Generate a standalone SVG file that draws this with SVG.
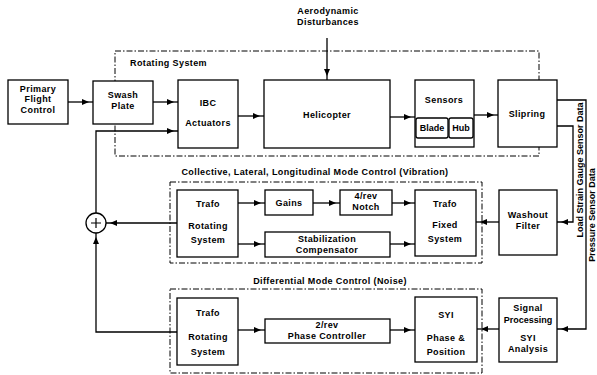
<svg xmlns="http://www.w3.org/2000/svg" width="597" height="375" viewBox="0 0 597 375">
<style>
.bx{fill:#fff;stroke:#000;stroke-width:1.3}
.dg{fill:none;stroke:#000;stroke-width:1;stroke-dasharray:6 2 1.5 2}
.ln{fill:none;stroke:#000;stroke-width:1.3}
text{font-family:"Liberation Sans",Arial,sans-serif;font-size:9px;letter-spacing:0.4px;font-weight:bold;fill:#000;text-anchor:middle}
.lt{text-anchor:start}
.vt{letter-spacing:0}
</style>
<defs>
<marker id="ar" markerUnits="userSpaceOnUse" markerWidth="14" markerHeight="8" refX="11" refY="3" orient="auto">
<path d="M0,0 L7,3 L0,6 z" fill="#000"/>
</marker>
</defs>
<rect width="597" height="375" fill="#fff"/>

<g id="groups">
<rect class="dg" x="115" y="51" width="424" height="105"/>
<text class="lt" x="130" y="66">Rotating System</text>
<rect class="dg" x="170" y="182" width="312" height="81"/>
<text x="315" y="175">Collective, Lateral, Longitudinal Mode Control (Vibration)</text>
<rect class="dg" x="170" y="289" width="312" height="84"/>
<text x="330" y="284">Differential Mode Control (Noise)</text>
</g>

<g id="connectors">
<path class="ln" d="M327,38 V80" marker-end="url(#ar)"/>
<path class="ln" d="M68,102 H93" marker-end="url(#ar)"/>
<path class="ln" d="M153,102 H178" marker-end="url(#ar)"/>
<path class="ln" d="M238,116 H264" marker-end="url(#ar)"/>
<path class="ln" d="M390,117 H415" marker-end="url(#ar)"/>
<path class="ln" d="M474,115 H498" marker-end="url(#ar)"/>
<path class="ln" d="M96,213 V131 H178" marker-end="url(#ar)"/>
<path class="ln" d="M177,223 H106" marker-end="url(#ar)"/>
<path class="ln" d="M177,332 H96 V233" marker-end="url(#ar)"/>
<path class="ln" d="M238,203 H265" marker-end="url(#ar)"/>
<path class="ln" d="M313,203 H340" marker-end="url(#ar)"/>
<path class="ln" d="M392,203 H415" marker-end="url(#ar)"/>
<path class="ln" d="M238,244 H265" marker-end="url(#ar)"/>
<path class="ln" d="M390,244 H415" marker-end="url(#ar)"/>
<path class="ln" d="M499,222 H476" marker-end="url(#ar)"/>
<path class="ln" d="M238,330 H265" marker-end="url(#ar)"/>
<path class="ln" d="M390,330 H415" marker-end="url(#ar)"/>
<path class="ln" d="M499,329 H477" marker-end="url(#ar)"/>
<path class="ln" d="M557,126 H573 V222 H557" marker-end="url(#ar)"/>
<path class="ln" d="M557,100 H586 V329 H557" marker-end="url(#ar)"/>
<text class="vt" transform="translate(583,170) rotate(-90)">Load Strain Gauge Sensor Data</text>
<text class="vt" transform="translate(595,215) rotate(-90)">Pressure Sensor Data</text>
</g>

<g id="aero">
<text x="328" y="14">Aerodynamic</text>
<text x="328" y="25">Disturbances</text>
</g>

<g id="pfc">
<rect class="bx" x="8" y="80" width="60" height="44"/>
<text x="38" y="92">Primary</text>
<text x="38" y="102">Flight</text>
<text x="38" y="113">Control</text>
</g>
<g id="swash">
<rect class="bx" x="93" y="81" width="60" height="43"/>
<text x="123" y="98">Swash</text>
<text x="123" y="109">Plate</text>
</g>
<g id="ibc">
<rect class="bx" x="178" y="80" width="60" height="68"/>
<text x="208" y="106">IBC</text>
<text x="208" y="126">Actuators</text>
</g>
<g id="helicopter">
<rect class="bx" x="264" y="80" width="126" height="68"/>
<text x="327" y="118">Helicopter</text>
</g>
<g id="sensors">
<rect class="bx" x="415" y="80" width="59" height="67"/>
<text x="444" y="103">Sensors</text>
<rect class="bx" x="416" y="118" width="32" height="20" rx="2"/>
<text x="432" y="131" style="letter-spacing:0">Blade</text>
<rect class="bx" x="449" y="118" width="24" height="20" rx="2"/>
<text x="461" y="131" style="letter-spacing:0">Hub</text>
</g>
<g id="slipring">
<rect class="bx" x="498" y="80" width="59" height="67"/>
<text x="527" y="117">Slipring</text>
</g>

<g id="sum">
<circle cx="96" cy="223" r="10" fill="#fff" stroke="#000" stroke-width="1.3"/>
<path d="M91,223 H101 M96,218 V228" stroke="#000" stroke-width="1.2"/>
</g>

<g id="trafo-rot-1">
<rect class="bx" x="177" y="190" width="61" height="67"/>
<text x="208" y="207">Trafo</text>
<text x="208" y="229">Rotating</text>
<text x="208" y="243">System</text>
</g>
<g id="gains">
<rect class="bx" x="265" y="190" width="48" height="25"/>
<text x="289" y="206">Gains</text>
</g>
<g id="notch">
<rect class="bx" x="340" y="190" width="52" height="25"/>
<text x="366" y="199">4/rev</text>
<text x="366" y="210">Notch</text>
</g>
<g id="stab">
<rect class="bx" x="265" y="232" width="125" height="25"/>
<text x="327" y="242">Stabilization</text>
<text x="327" y="253">Compensator</text>
</g>
<g id="trafo-fixed">
<rect class="bx" x="415" y="190" width="61" height="66"/>
<text x="445" y="207">Trafo</text>
<text x="445" y="228">Fixed</text>
<text x="445" y="242">System</text>
</g>
<g id="washout">
<rect class="bx" x="499" y="190" width="58" height="65"/>
<text x="528" y="218">Washout</text>
<text x="528" y="229">Filter</text>
</g>

<g id="trafo-rot-2">
<rect class="bx" x="177" y="298" width="61" height="67"/>
<text x="208" y="316">Trafo</text>
<text x="208" y="340">Rotating</text>
<text x="208" y="355">System</text>
</g>
<g id="phase">
<rect class="bx" x="265" y="319" width="125" height="24"/>
<text x="327" y="328">2/rev</text>
<text x="327" y="339">Phase Controller</text>
</g>
<g id="syi">
<rect class="bx" x="415" y="297" width="62" height="65"/>
<text x="446" y="318">SYI</text>
<text x="446" y="341">Phase &amp;</text>
<text x="446" y="355">Position</text>
</g>
<g id="sigproc">
<rect class="bx" x="499" y="298" width="58" height="64"/>
<text x="528" y="311">Signal</text>
<text x="528" y="323" style="letter-spacing:0">Processing</text>
<text x="528" y="341">SYI</text>
<text x="528" y="352">Analysis</text>
</g>
</svg>
